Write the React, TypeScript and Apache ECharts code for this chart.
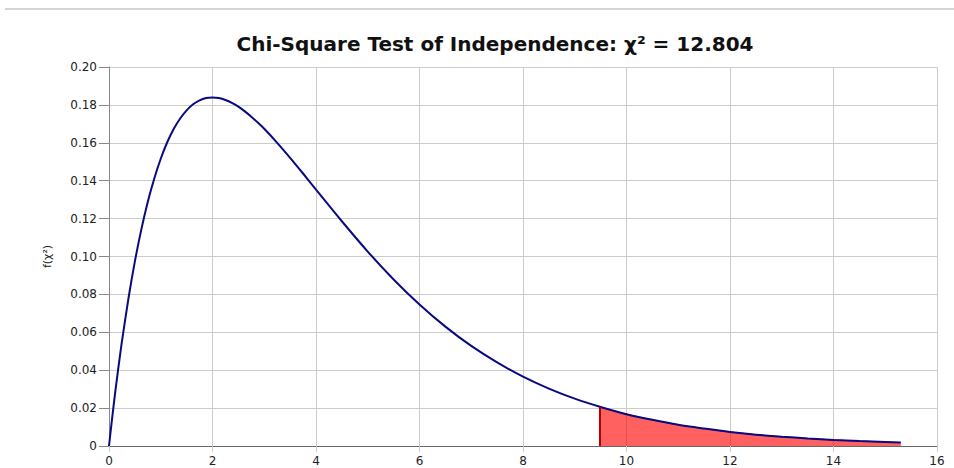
import React, { useEffect, useRef } from "react";
import * as echarts from "echarts";

const titleText = "Chi-Square Test of Independence: χ² = 12.804";
const yAxisName = "f(χ²)";

// density curve (x, f)
const curveX = [0, 0.05, 0.1, 0.15, 0.2, 0.25, 0.375, 0.5, 0.625, 0.75, 0.875, 1, 1.125, 1.25, 1.375, 1.5, 1.625, 1.75, 1.875, 2, 2.125, 2.25, 2.375, 2.5, 2.625, 2.75, 2.875, 3, 3.25, 3.5, 3.75, 4, 4.5, 5, 5.5, 6, 6.5, 7, 7.5, 8, 8.5, 9, 9.5, 10, 10.5, 11, 11.5, 12, 12.5, 13, 13.5, 14, 14.5, 15, 15.3];
const curveY = [0, 0.0122, 0.0238, 0.0348, 0.0452, 0.0552, 0.0777, 0.0974, 0.1143, 0.1289, 0.1412, 0.1516, 0.1603, 0.1673, 0.1728, 0.1771, 0.1803, 0.1824, 0.1836, 0.1839, 0.1836, 0.1826, 0.1811, 0.1791, 0.1766, 0.1738, 0.1707, 0.1674, 0.16, 0.1521, 0.1438, 0.1353, 0.1186, 0.1026, 0.0879, 0.0747, 0.063, 0.0528, 0.0441, 0.0366, 0.0303, 0.025, 0.0206, 0.0168, 0.0138, 0.0112, 0.0092, 0.0074, 0.006, 0.0049, 0.004, 0.0032, 0.0026, 0.0021, 0.0018];

// rejection region
const regionX = [9.49, 10, 10.5, 11, 11.5, 12, 12.5, 13, 13.5, 14, 14.5, 15, 15.3];
const regionY = [0.0206, 0.0168, 0.0138, 0.0112, 0.0092, 0.0074, 0.006, 0.0049, 0.004, 0.0032, 0.0026, 0.0021, 0.0018];

const xMin = 0, xMax = 16, xStep = 2;
const yMin = 0, yMax = 0.2, yStep = 0.02;

const FONT = "DejaVu Sans, Verdana, sans-serif";

export default function App() {
  const ref = useRef<HTMLDivElement>(null);
  useEffect(() => {
    if (!ref.current) return;
    const chart = echarts.init(ref.current, undefined, { renderer: "svg" });
    const curve = curveX.map((x, i) => [x, curveY[i]]);
    const region = regionX.map((x, i) => [x, regionY[i]]);
    const edgeColor = "#b00000";
    chart.setOption({
      animation: false,
      textStyle: { fontFamily: FONT },
      title: {
        text: titleText,
        left: 490,
        textAlign: "center",
        top: 29,
        textStyle: { fontSize: 20, fontWeight: "bold", color: "#111", fontFamily: FONT },
      },
      graphic: [
        { type: "line", shape: { x1: 5, y1: 9, x2: 954, y2: 9 }, style: { stroke: "#aaa", lineWidth: 1 } },
      ],
      grid: { left: 109, right: 17, top: 67, bottom: 22, containLabel: false },
      xAxis: {
        type: "value",
        min: xMin,
        max: xMax,
        interval: xStep,
        axisLine: { show: true, onZero: false, lineStyle: { color: "#666", width: 1 } },
        axisTick: { show: true, length: 6, lineStyle: { color: "#ccc" } },
        axisLabel: { color: "#222", fontSize: 12, margin: 9, fontFamily: FONT },
        splitLine: { show: true, lineStyle: { color: "#ccc", width: 1 } },
      },
      yAxis: {
        type: "value",
        min: yMin,
        max: yMax,
        interval: yStep,
        name: yAxisName,
        nameLocation: "middle",
        nameGap: 56,
        nameTextStyle: { color: "#222", fontSize: 11, fontFamily: FONT },
        axisLine: { show: true, lineStyle: { color: "#888", width: 1 } },
        axisTick: { show: true, length: 10, lineStyle: { color: "#888" } },
        axisLabel: {
          color: "#222",
          fontSize: 12,
          margin: 12,
          fontFamily: FONT,
          formatter: (v: number) => (v === 0 ? "0" : v.toFixed(2)),
        },
        splitLine: { show: true, lineStyle: { color: "#ccc", width: 1 } },
      },
      series: [
        {
          type: "line",
          data: region,
          smooth: 0.3,
          showSymbol: false,
          symbol: "none",
          lineStyle: { color: edgeColor, width: 1 },
          areaStyle: { color: "rgba(255,0,0,0.62)", opacity: 1, origin: "start" },
          markLine: {
            silent: true,
            symbol: "none",
            label: { show: false },
            lineStyle: { color: edgeColor, width: 2, type: "solid" },
            data: [
              [{ coord: [regionX[0], 0] }, { coord: [regionX[0], regionY[0]] }],
            ],
          },
          z: 2,
        },
        {
          type: "line",
          data: curve,
          smooth: 0.3,
          showSymbol: false,
          symbol: "none",
          lineStyle: { color: "#0a0a80", width: 2 },
          z: 3,
        },
      ],
    });
    return () => chart.dispose();
  }, []);
  return <div ref={ref} style={{ width: 954, height: 468, position: "absolute", left: 0, top: 0 }} />;
}
